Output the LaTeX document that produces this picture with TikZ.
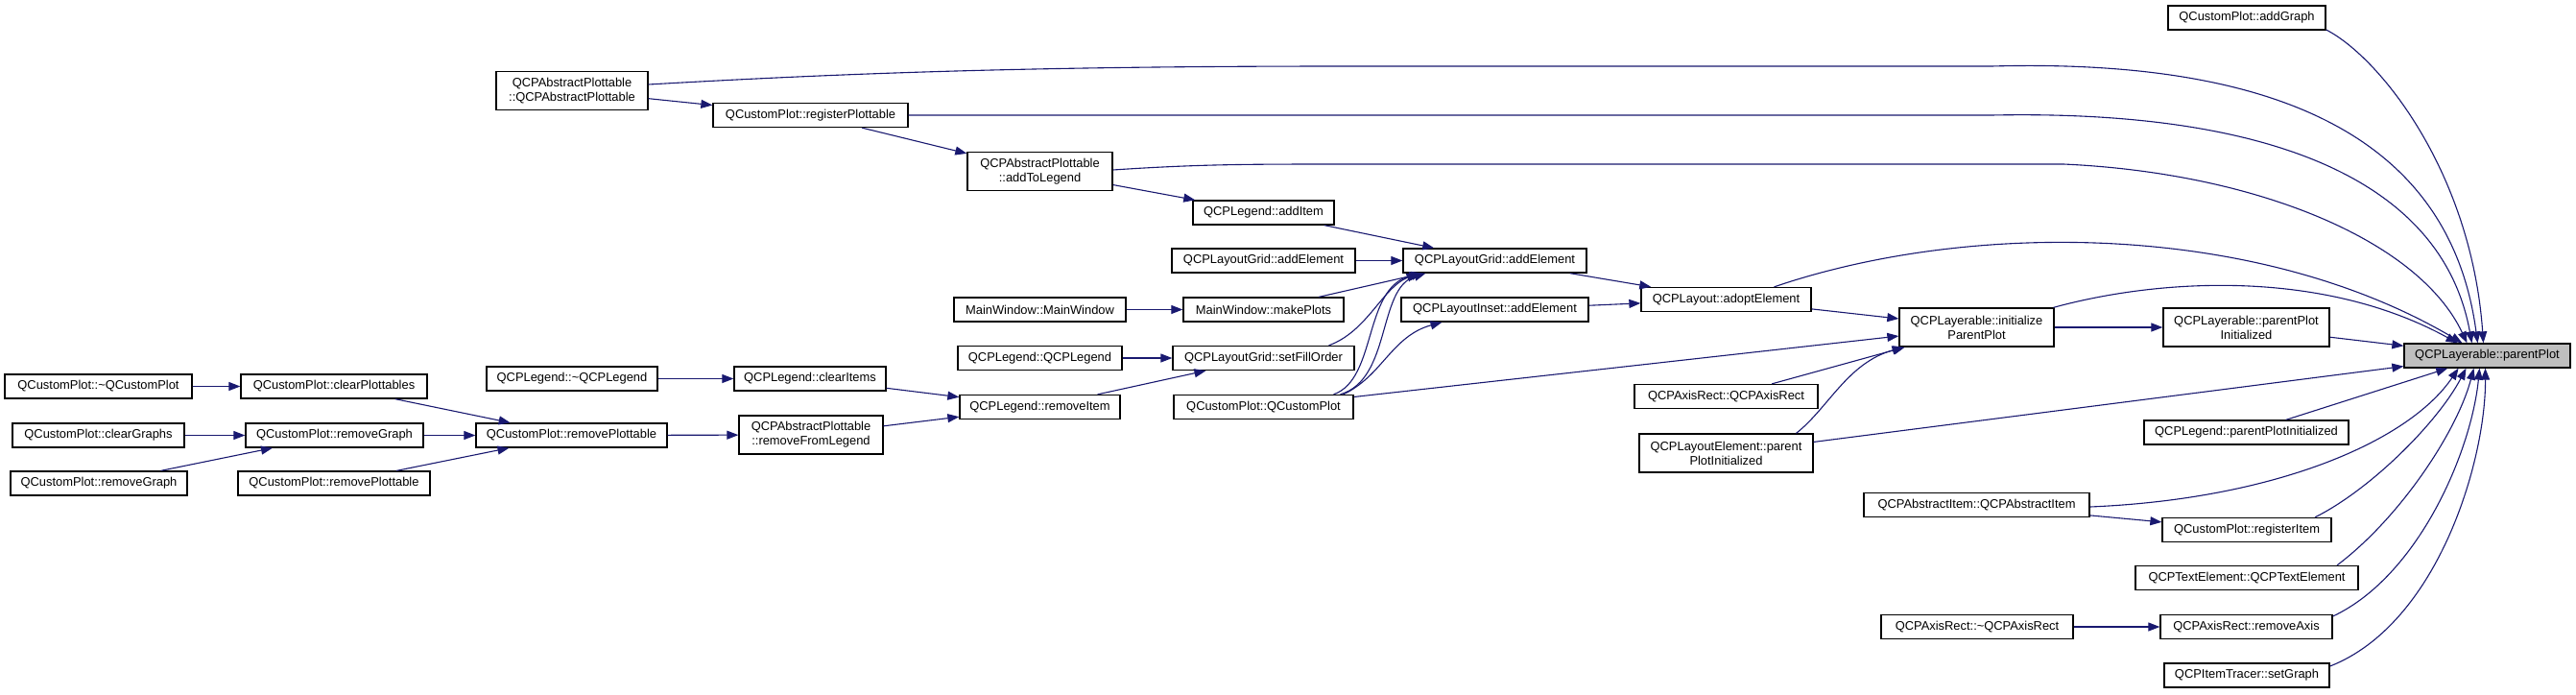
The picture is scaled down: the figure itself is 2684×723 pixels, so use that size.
\documentclass[tikz,border=0pt]{standalone}
\usepackage{fontspec}
\setmainfont{Liberation Sans}
\usetikzlibrary{arrows.meta}
\definecolor{edgec}{RGB}{25,25,112}
\definecolor{hlfill}{RGB}{191,191,191}
\begin{document}
\begin{tikzpicture}[x=1pt,y=-1pt,
  box/.style={draw=black, line width=1.3pt, fill=white, inner sep=0pt, minimum height=25pt, align=center, font=\fontsize{12.9}{15}\selectfont},
  tall/.style={minimum height=40pt},
  edge/.style={draw=edgec, line width=1.1pt, -{Triangle[length=12pt,width=9pt]}},
]
\fill[white] (0,0) rectangle (2684,723);
\useasboundingbox (0,0) rectangle (2684,723);

% nodes
\node[box, minimum width=164pt] (addGraph) at (2341,18.5) {QCustomPlot::addGraph};
\node[box, tall, minimum width=158pt] (absPlotCtor) at (596,94.5) {QCPAbstractPlottable\\::QCPAbstractPlottable};
\node[box, minimum width=203pt] (regPlot) at (844.5,120) {QCustomPlot::registerPlottable};
\node[box, tall, minimum width=151pt] (addToLegend) at (1083.5,178.5) {QCPAbstractPlottable\\::addToLegend};
\node[box, minimum width=147pt] (addItem) at (1316.5,221.5) {QCPLegend::addItem};
\node[box, minimum width=191pt] (gridAddL) at (1316.5,271.5) {QCPLayoutGrid::addElement};
\node[box, minimum width=191pt] (gridAdd) at (1557.5,271.5) {QCPLayoutGrid::addElement};
\node[box, minimum width=179pt] (mwCtor) at (1083.5,322.5) {MainWindow::MainWindow};
\node[box, minimum width=167pt] (makePlots) at (1316.5,322.5) {MainWindow::makePlots};
\node[box, minimum width=195pt] (insetAdd) at (1557.5,322.5) {QCPLayoutInset::addElement};
\node[box, minimum width=177pt] (adopt) at (1798.5,312) {QCPLayout::adoptElement};
\node[box, tall, minimum width=161pt] (initPP) at (2059.5,341) {QCPLayerable::initialize\\ParentPlot};
\node[box, tall, minimum width=173pt] (ppInit) at (2340.5,341) {QCPLayerable::parentPlot\\Initialized};
\node[box, fill=hlfill, minimum width=173pt] (parentPlot) at (2591.5,370.5) {QCPLayerable::parentPlot};
\node[box, minimum width=171pt] (legCtor) at (1083.5,373) {QCPLegend::QCPLegend};
\node[box, minimum width=189pt] (fillOrder) at (1316.5,373) {QCPLayoutGrid::setFillOrder};
\node[box, minimum width=178pt] (legDtor) at (596,394.5) {QCPLegend::\textasciitilde QCPLegend};
\node[box, minimum width=158pt] (clearItems) at (844,394.5) {QCPLegend::clearItems};
\node[box, minimum width=195pt] (cpDtor) at (102.5,402.5) {QCustomPlot::\textasciitilde QCustomPlot};
\node[box, minimum width=194pt] (clearPlottables) at (348,402.5) {QCustomPlot::clearPlottables};
\node[box, minimum width=167pt] (removeItem) at (1083.5,424) {QCPLegend::removeItem};
\node[box, minimum width=187pt] (cpCtor) at (1316.5,424) {QCustomPlot::QCustomPlot};
\node[box, minimum width=191pt] (axisRectCtor) at (1798.5,413) {QCPAxisRect::QCPAxisRect};
\node[box, minimum width=179pt] (clearGraphs) at (102.5,453.5) {QCustomPlot::clearGraphs};
\node[box, minimum width=185pt] (removeGraph) at (348.5,453.5) {QCustomPlot::removeGraph};
\node[box, minimum width=199pt] (removePlottable) at (595.5,453.5) {QCustomPlot::removePlottable};
\node[box, tall, minimum width=150pt] (removeFromLegend) at (845,453) {QCPAbstractPlottable\\::removeFromLegend};
\node[box, minimum width=213pt] (legPPInit) at (2340.5,450.5) {QCPLegend::parentPlotInitialized};
\node[box, tall, minimum width=181pt] (lePPInit) at (1798.5,472) {QCPLayoutElement::parent\\PlotInitialized};
\node[box, minimum width=184pt] (removeGraphB) at (103,503.5) {QCustomPlot::removeGraph};
\node[box, minimum width=200pt] (removePlottableB) at (348,503.5) {QCustomPlot::removePlottable};
\node[box, minimum width=235pt] (absItemCtor) at (2059.5,526) {QCPAbstractItem::QCPAbstractItem};
\node[box, minimum width=176pt] (registerItem) at (2341,552) {QCustomPlot::registerItem};
\node[box, minimum width=232pt] (textElem) at (2341,602) {QCPTextElement::QCPTextElement};
\node[box, minimum width=200pt] (axisRectDtor) at (2060,653) {QCPAxisRect::\textasciitilde QCPAxisRect};
\node[box, minimum width=179pt] (removeAxis) at (2340.5,653) {QCPAxisRect::removeAxis};
\node[box, minimum width=172pt] (setGraph) at (2341,703.5) {QCPItemTracer::setGraph};

% straight edges
\draw[edge] (cpDtor) -- (clearPlottables);
\draw[edge] (clearGraphs) -- (removeGraph);
\draw[edge] (removeGraphB) -- (removeGraph);
\draw[edge] (clearPlottables) -- (removePlottable);
\draw[edge] (removeGraph) -- (removePlottable);
\draw[edge] (removePlottableB) -- (removePlottable);
\draw[edge] (removePlottable) -- (removeFromLegend);
\draw[edge] (legDtor) -- (clearItems);
\draw[edge] (clearItems) -- (removeItem);
\draw[edge] (removeFromLegend) -- (removeItem);
\draw[edge] (removeItem) -- (fillOrder);
\draw[edge] (legCtor) -- (fillOrder);
\draw[edge] (mwCtor) -- (makePlots);
\draw[edge] (makePlots) -- ([xshift=-75pt]gridAdd.south);
\draw[edge] (gridAddL) -- (gridAdd);
\draw[edge] (addItem) -- (gridAdd);
\draw[edge] (addToLegend) -- (addItem);
\draw[edge] (regPlot) -- (addToLegend);
\draw[edge] (absPlotCtor) -- (regPlot);
\draw[edge] (insetAdd) -- (adopt);
\draw[edge] (gridAdd) -- (adopt);
\draw[edge] (adopt) -- (initPP);
\draw[edge] (cpCtor) -- (initPP);
\draw[edge] (axisRectCtor) -- (initPP);
\draw[edge] (lePPInit) -- (parentPlot);
\draw[edge] (initPP) -- (ppInit);
\draw[edge] (ppInit) -- (parentPlot);
\draw[edge] (legPPInit) -- (parentPlot);
\draw[edge] (absItemCtor) -- (registerItem);
\draw[edge] (axisRectDtor) -- (removeAxis);

% curved edges (middle)
\draw[edge] ([xshift=73pt]lePPInit.north) .. controls (1905,425) and (1925,378) .. ([xshift=-76pt]initPP.south);
\draw[edge] ([xshift=68pt]fillOrder.north) .. controls (1425,345) and (1440,300) .. ([xshift=-80pt]gridAdd.south);
\draw[edge] ([xshift=73pt]cpCtor.north) .. controls (1435,395) and (1420,300) .. ([xshift=-77pt]gridAdd.south);
\draw[edge] ([xshift=80pt]cpCtor.north) .. controls (1450,395) and (1435,300) .. ([xshift=-72pt]gridAdd.south);
\draw[edge] ([xshift=83pt]cpCtor.north) .. controls (1440,392) and (1450,350) .. ([xshift=-55pt]insetAdd.south);

% curves into parentPlot from above
\draw[edge] ([yshift=-12.5pt]addGraph.east) .. controls (2480,60) and (2575,180) .. ([xshift=-4pt]parentPlot.north);
\draw[edge] ([yshift=6.5pt]absPlotCtor.east) .. controls (900,75) and (1100,69) .. (1400,69) -- (2075,69) .. controls (2400,60) and (2555,160) .. ([xshift=-10pt]parentPlot.north);
\draw[edge] (regPlot.east) -- (2075,120) .. controls (2370,114) and (2545,190) .. ([xshift=-16pt]parentPlot.north);
\draw[edge] ([yshift=1.5pt]addToLegend.east) .. controls (1250,171) and (1300,171) .. (1400,171) -- (2150,171) .. controls (2350,180) and (2520,250) .. ([xshift=-21pt]parentPlot.north);
\draw[edge] ([xshift=50pt]adopt.north) .. controls (2050,230) and (2350,230) .. ([xshift=-26pt]parentPlot.north);
\draw[edge] ([xshift=80pt]initPP.north) .. controls (2250,290) and (2420,280) .. ([xshift=-31pt]parentPlot.north);

% curves into parentPlot from below
\draw[edge] ([yshift=-2pt]absItemCtor.east) .. controls (2370,520) and (2510,460) .. ([xshift=-30pt]parentPlot.south);
\draw[edge] ([xshift=71pt]registerItem.north) .. controls (2470,510) and (2540,440) .. ([xshift=-22pt]parentPlot.south);
\draw[edge] ([xshift=94pt]textElem.north) .. controls (2500,540) and (2560,450) .. ([xshift=-14pt]parentPlot.south);
\draw[edge] ([yshift=11pt]removeAxis.east) .. controls (2520,600) and (2575,470) .. ([xshift=-8pt]parentPlot.south);
\draw[edge] ([yshift=9.5pt]setGraph.east) .. controls (2540,650) and (2590,480) .. ([xshift=-2pt]parentPlot.south);
\end{tikzpicture}
\end{document}
